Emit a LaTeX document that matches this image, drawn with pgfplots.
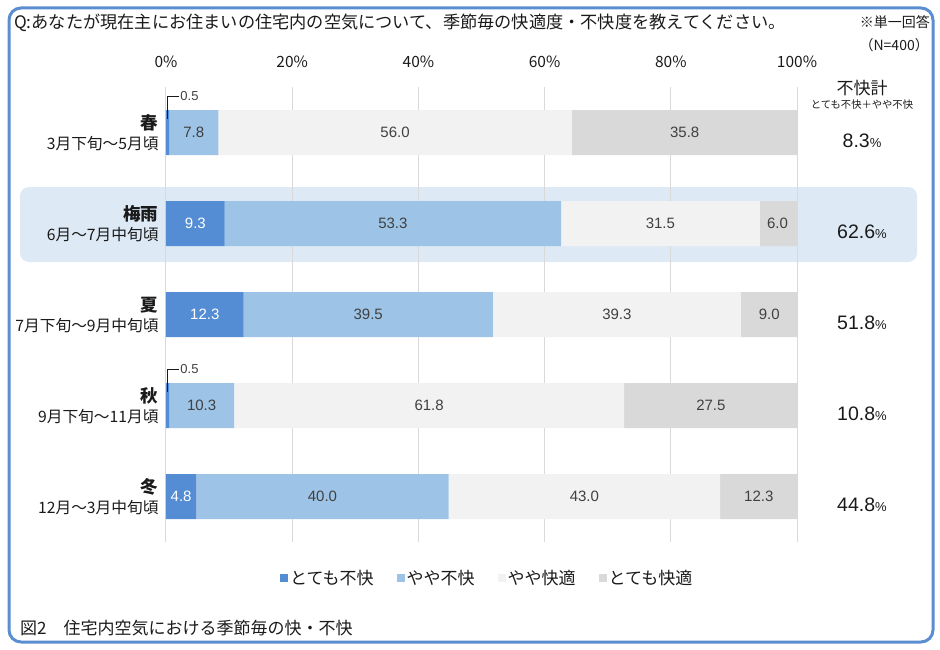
\documentclass[border=0pt]{standalone}
\usepackage{pgfplots}
\pgfplotsset{compat=1.18}
\usepackage{fontspec}
\setmainfont{Noto Sans CJK JP}
\newfontfamily\arial{Liberation Sans}
\definecolor{cA}{HTML}{548DD4}
\definecolor{cB}{HTML}{9DC3E6}
\definecolor{cC}{HTML}{F2F2F2}
\definecolor{cD}{HTML}{D9D9D9}
\definecolor{frame}{HTML}{5B8ED0}
\definecolor{band}{HTML}{DDE9F5}
\definecolor{txt}{HTML}{1A1A1A}
\definecolor{lab}{HTML}{404040}
\newcommand\fs[1]{\fontsize{#1}{#1}\selectfont}
\begin{document}
\begin{tikzpicture}
\useasboundingbox (0pt,0pt) rectangle (940pt,-650pt);
\draw[frame, line width=3pt, rounded corners=12pt] (9pt,-8pt) rectangle (933pt,-642pt);
\fill[band, rounded corners=9pt] (20pt,-187pt) rectangle (917pt,-262pt);
\node[anchor=west, inner sep=0pt, text=txt, font=\fs{17.2}] at (14pt,-23pt) {Q:あなたが現在主にお住まいの住宅内の空気について、季節毎の快適度・不快度を教えてください。};
\node[anchor=east, inner sep=0pt, text=txt, font=\fs{14}] at (930pt,-22pt) {※単一回答};
\node[anchor=east, inner sep=0pt, text=txt, font=\fs{14}] at (929pt,-45pt) {（N=400）};
\node[inner sep=0pt, text=txt, font=\fs{17}] at (862pt,-88pt) {不快計};
\node[inner sep=0pt, text=txt, font=\fs{10.3}] at (862pt,-105pt) {とても不快＋やや不快};
\node[anchor=west, inner sep=0pt, text=txt, font=\fs{17}] at (20pt,-628pt) {図2\quad 住宅内空気における季節毎の快・不快};

\begin{axis}[
 at={(166pt,-542pt)}, anchor=south west,
 scale only axis, width=631pt, height=455pt,
 xmin=0, xmax=100, ymin=-0.5, ymax=4.5, y dir=reverse,
 xbar stacked, bar width=45pt,
 axis line style={draw=none}, major tick length=0pt,
 xtick={0,20,...,100}, xticklabel pos=upper,
 xticklabel={\pgfmathprintnumber{\tick}\%},
 /pgf/number format/assume math mode=true,
 xticklabel style={font=\fs{15.5}, text=txt, yshift=16pt},
 xmajorgrids, major grid style={cD, line width=1pt},
 ytick={0,1,2,3,4},
 yticklabels={
  {{\bfseries\fs{17.5}春}\\3月下旬～5月頃},
  {{\bfseries\fs{17.5}梅雨}\\6月～7月中旬頃},
  {{\bfseries\fs{17.5}夏}\\7月下旬～9月中旬頃},
  {{\bfseries\fs{17.5}秋}\\9月下旬～11月頃},
  {{\bfseries\fs{17.5}冬}\\12月～3月中旬頃}},
 yticklabel style={align=right, font=\fontsize{15.7}{20}\selectfont, text=txt, xshift=-4pt},
 legend columns=4,
 legend style={draw=none, fill=none, at={(0.509,-0.08)}, anchor=center, font=\fs{17}, text=txt,
   /tikz/every even column/.append style={column sep=21pt}},
]
\addplot[fill=cA, draw=none, legend image code/.code={\fill[cA] (0pt,-4pt) rectangle (8pt,4pt);}]
 coordinates {(0.5,0) (9.3,1) (12.3,2) (0.5,3) (4.8,4)};
\addlegendentry{とても不快}
\addplot[fill=cB, draw=none, legend image code/.code={\fill[cB] (0pt,-4pt) rectangle (8pt,4pt);}]
 coordinates {(7.8,0) (53.3,1) (39.5,2) (10.3,3) (40.0,4)};
\addlegendentry{やや不快}
\addplot[fill=cC, draw=none, legend image code/.code={\fill[cC] (0pt,-4pt) rectangle (8pt,4pt);}]
 coordinates {(56.0,0) (31.5,1) (39.3,2) (61.8,3) (43.0,4)};
\addlegendentry{やや快適}
\addplot[fill=cD, draw=none, legend image code/.code={\fill[cD] (0pt,-4pt) rectangle (8pt,4pt);}]
 coordinates {(35.8,0) (6.0,1) (9.0,2) (27.5,3) (12.3,4)};
\addlegendentry{とても快適}
\end{axis}

\begin{axis}[
 at={(166pt,-542pt)}, anchor=south west,
 scale only axis, width=631pt, height=455pt,
 xmin=0, xmax=100, ymin=-0.5, ymax=4.5, y dir=reverse,
 hide axis, clip=false,
 nodes near coords, point meta=explicit symbolic,
 every node near coord/.append style={anchor=center, font=\arial\fs{15}, text=lab},
]
\addplot[draw=none, mark=none, every node near coord/.append style={text=white}]
 coordinates {(4.65,1)[9.3] (6.15,2)[12.3] (2.4,4)[4.8]};
\addplot[draw=none, mark=none]
 coordinates {(4.4,0)[7.8] (35.95,1)[53.3] (32.05,2)[39.5] (5.65,3)[10.3] (24.8,4)[40.0]};
\addplot[draw=none, mark=none]
 coordinates {(36.3,0)[56.0] (78.35,1)[31.5] (71.45,2)[39.3] (41.7,3)[61.8] (66.3,4)[43.0]};
\addplot[draw=none, mark=none]
 coordinates {(82.2,0)[35.8] (96.9,1)[6.0] (95.6,2)[9.0] (86.35,3)[27.5] (93.95,4)[12.3]};
\addplot[draw=none, mark=none, nodes near coords={\pgfplotspointmeta{\fs{13}\%}},
 every node near coord/.append style={font=\arial\fs{19.5}, text=txt, yshift=-8pt}]
 coordinates {(110.3,0)[8.3] (110.3,1)[62.6] (110.3,2)[51.8] (110.3,3)[10.8] (110.3,4)[44.8]};
\draw[txt, line width=1.5pt] (axis cs:0.27,0) ++(0pt,14pt) -- ++(0pt,22pt) -- ++(11pt,0pt)
  node[right, inner sep=1pt, font=\arial\fs{13}, text=lab]{0.5};
\draw[txt, line width=1.5pt] (axis cs:0.27,3) ++(0pt,14pt) -- ++(0pt,22pt) -- ++(11pt,0pt)
  node[right, inner sep=1pt, font=\arial\fs{13}, text=lab]{0.5};
\end{axis}
\end{tikzpicture}
\end{document}
